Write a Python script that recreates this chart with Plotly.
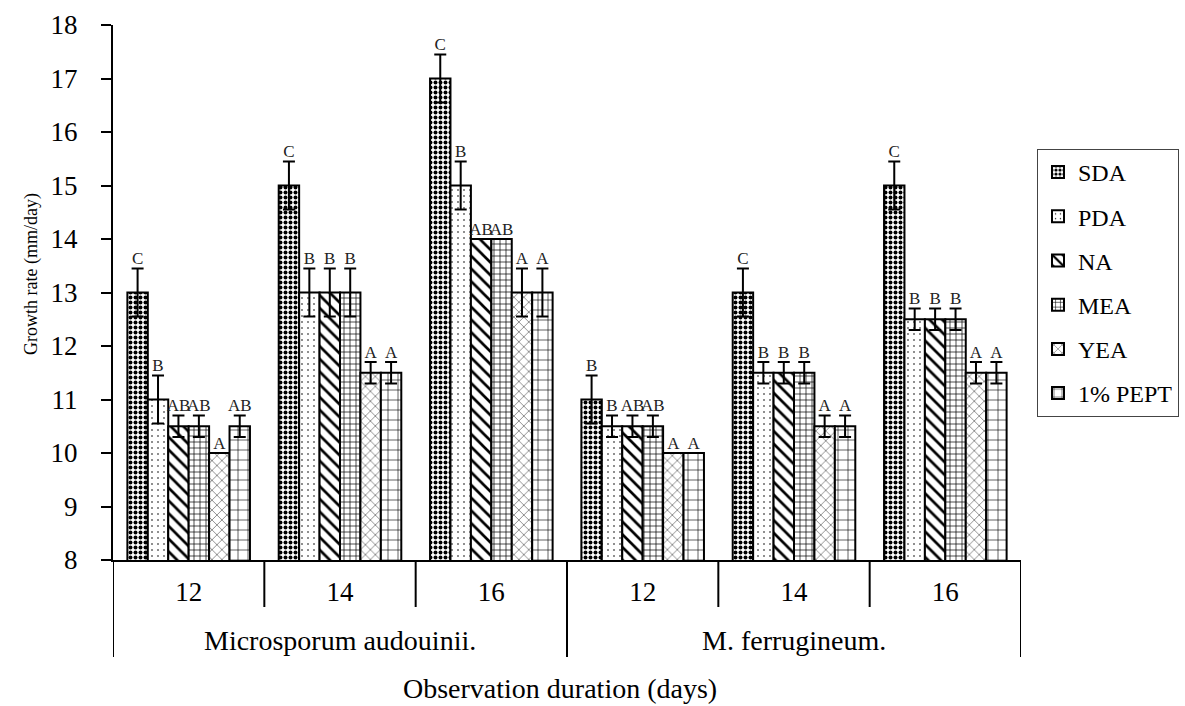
import plotly.graph_objects as go

# ---------------- data ----------------
species = ["Microsporum audouinii.", "M. ferrugineum."]
days = ["12", "14", "16"]
media = ["SDA", "PDA", "NA", "MEA", "YEA", "1% PEPT"]

# values per medium, order: MA12, MA14, MA16, MF12, MF14, MF16
sda = [13, 15, 17, 11, 13, 15]
pda = [11, 13, 15, 10.5, 11.5, 12.5]
na = [10.5, 13, 14, 10.5, 11.5, 12.5]
mea = [10.5, 13, 14, 10.5, 11.5, 12.5]
yea = [10, 11.5, 13, 10, 10.5, 11.5]
pept = [10.5, 11.5, 13, 10, 10.5, 11.5]

sda_err = [0.45, 0.45, 0.45, 0.45, 0.45, 0.45]
pda_err = [0.45, 0.45, 0.45, 0.2, 0.2, 0.2]
na_err = [0.2, 0.45, 0, 0.2, 0.2, 0.2]
mea_err = [0.2, 0.45, 0, 0.2, 0.2, 0.2]
yea_err = [0, 0.2, 0.45, 0, 0.2, 0.2]
pept_err = [0.2, 0.2, 0.45, 0, 0.2, 0.2]

sda_lab = ["C", "C", "C", "B", "C", "C"]
pda_lab = ["B", "B", "B", "B", "B", "B"]
na_lab = ["AB", "B", "AB", "AB", "B", "B"]
mea_lab = ["AB", "B", "AB", "AB", "B", "B"]
yea_lab = ["A", "A", "A", "A", "A", "A"]
pept_lab = ["AB", "A", "A", "A", "A", "A"]

y_ticks = [8, 9, 10, 11, 12, 13, 14, 15, 16, 17, 18]

values = [sda, pda, na, mea, yea, pept]
errors = [sda_err, pda_err, na_err, mea_err, yea_err, pept_err]
labels = [sda_lab, pda_lab, na_lab, mea_lab, yea_lab, pept_lab]

# ---------------- styles ----------------
FONT = "Liberation Serif, Times New Roman, serif"
patterns = [
    dict(shape=".", size=5, solidity=0.5),
    dict(shape=".", size=6, solidity=0.06),
    dict(shape="\\", size=9, solidity=0.3),
    dict(shape="+", size=6, solidity=0.22),
    dict(shape="x", size=7, solidity=0.12),
    dict(shape="+", size=10, solidity=0.12),
]

n_cat = len(species) * len(days)
xpos = list(range(n_cat))
tick_text = [d for _ in species for d in days]
bargap = 0.19
n_ser = len(media)
bw = (1 - bargap) / n_ser

fig = go.Figure()
for i, name in enumerate(media):
    fig.add_trace(go.Bar(
        x=xpos, y=values[i], name=name,
        legendgroup=name,
        marker=dict(color="white", line=dict(color="black", width=2),
                    pattern=dict(fgcolor="black", bgcolor="white", fillmode="replace", **patterns[i])),
        error_y=dict(type="data", array=errors[i], visible=True, color="black", thickness=2, width=6),
    ))

for i, name in enumerate(media):
    fig.add_trace(go.Scatter(
        x=[x + (i - (n_ser - 1) / 2) * bw for x in xpos],
        y=[v + e for v, e in zip(values[i], errors[i])],
        text=labels[i], mode="text", textposition="top center",
        textfont=dict(family=FONT, size=17, color="#222"),
        showlegend=False, hoverinfo="skip", cliponaxis=False,
    ))

L, R, T, B = 113, 164, 25, 146
W, H = 1185, 706
ph = H - T - B
pw = W - L - R

shapes = []
for k in range(n_cat + 1):
    outer = (k % len(days) == 0)
    depth = 97 if outer else 47
    shapes.append(dict(type="line", xref="x", yref="paper", x0=k - 0.5, x1=k - 0.5,
                       y0=0, y1=-depth / ph, line=dict(color="black", width=2)))

annotations = []
for s, sp in enumerate(species):
    annotations.append(dict(text=sp, xref="x", yref="paper", x=s * len(days) + (len(days) - 1) / 2,
                             y=-80 / ph, showarrow=False, yanchor="middle",
                             font=dict(family=FONT, size=28, color="black")))
annotations.append(dict(text="Observation duration (days)", xref="paper", yref="paper",
                        x=(560 - L) / pw, y=-(688 - (H - B)) / ph, showarrow=False,
                        yanchor="middle", font=dict(family=FONT, size=28, color="black")))
annotations.append(dict(text="Growth rate (mm/day)", xref="paper", yref="paper", textangle=-90,
                        x=(31 - L) / pw, y=((H - B) - 274) / ph, showarrow=False,
                        xanchor="center", yanchor="middle",
                        font=dict(family=FONT, size=18, color="black")))

fig.update_layout(
    width=W, height=H,
    margin=dict(l=L, r=R, t=T, b=B, autoexpand=False),
    paper_bgcolor="white", plot_bgcolor="white",
    barmode="group", bargap=bargap, bargroupgap=0,
    font=dict(family=FONT, color="black"),
    xaxis=dict(range=[-0.5, n_cat - 0.5], tickmode="array", tickvals=xpos, ticktext=tick_text,
               showline=True, linecolor="black", linewidth=2, showgrid=False, zeroline=False,
               ticks="", ticklabelstandoff=7, tickfont=dict(family=FONT, size=27, color="black")),
    yaxis=dict(range=[8, 18], tickmode="array", tickvals=y_ticks, showline=True, linecolor="black",
               linewidth=2, showgrid=False, zeroline=False, ticks="outside", ticklen=10, tickwidth=2,
               tickcolor="black", ticklabelstandoff=18, tickfont=dict(family=FONT, size=27, color="black")),
    legend=dict(x=(1037 - L) / pw, y=((H - B) - 149) / ph, xanchor="left", yanchor="top",
                bordercolor="#444", borderwidth=1, tracegroupgap=10,
                font=dict(family=FONT, size=24, color="black")),
    shapes=shapes, annotations=annotations,
)

fig.write_html("out.html")
